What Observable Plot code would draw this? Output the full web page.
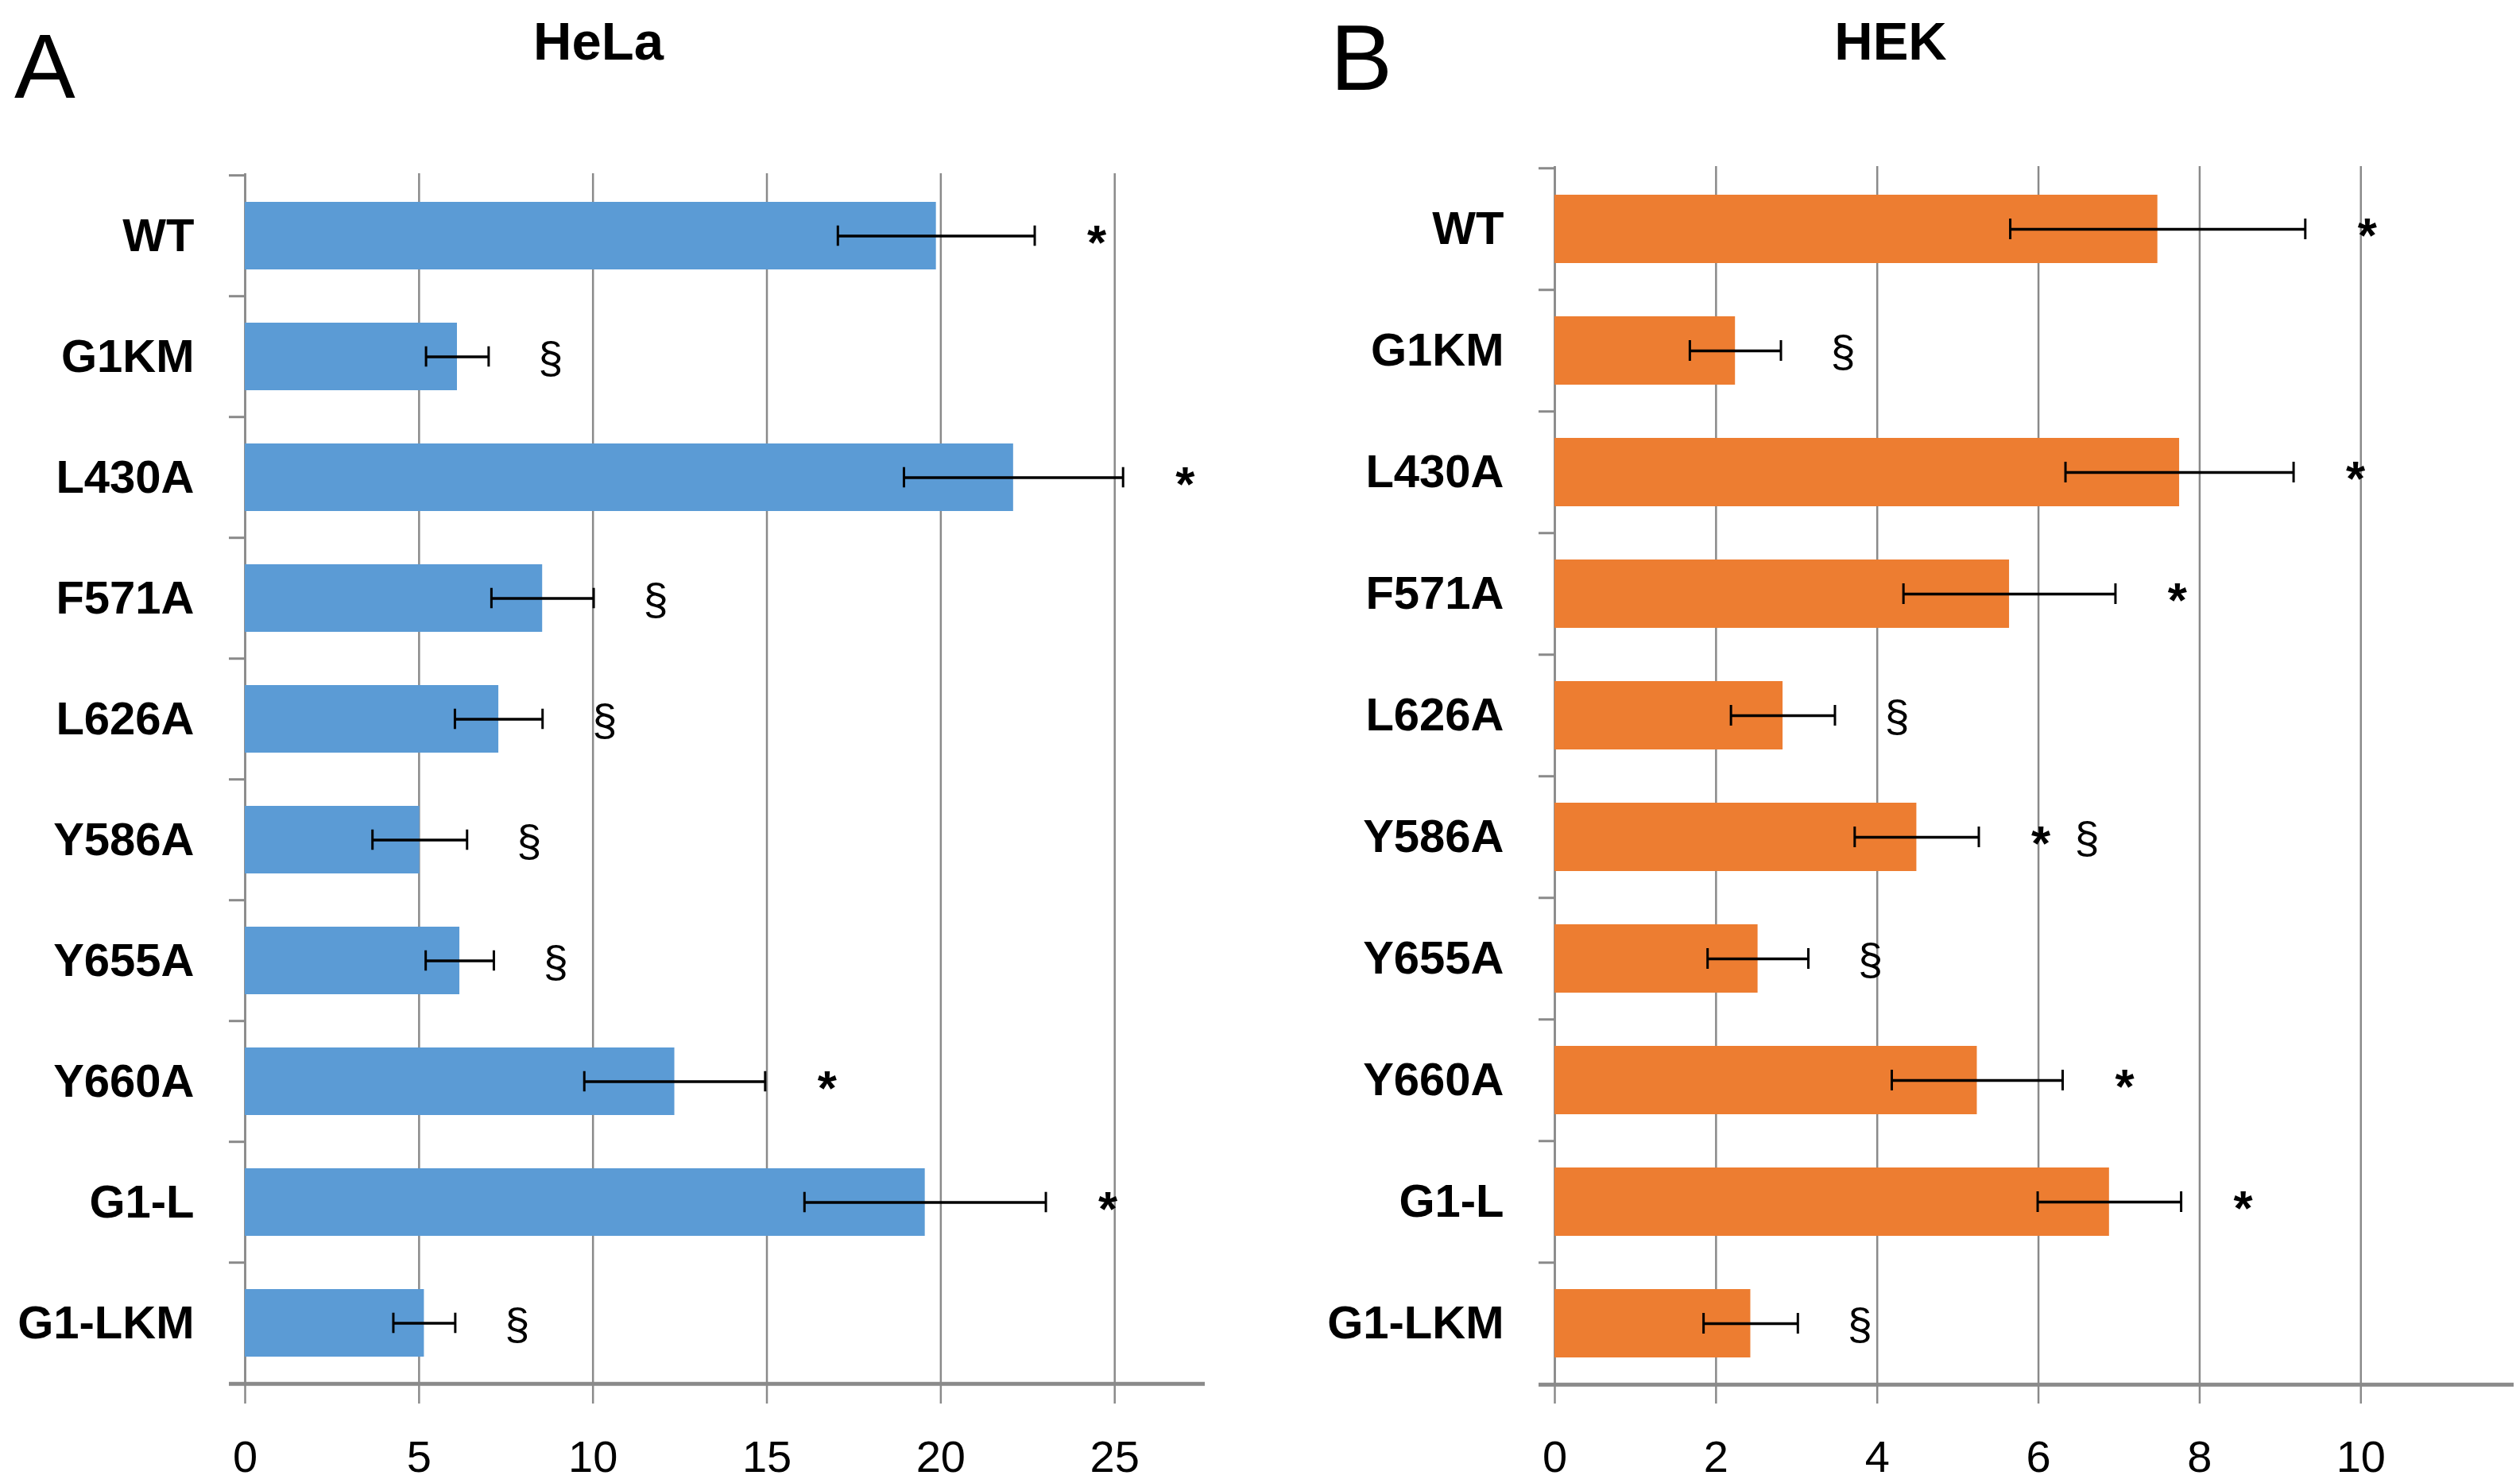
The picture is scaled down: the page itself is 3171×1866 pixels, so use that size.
<!DOCTYPE html>
<html><head><meta charset="utf-8">
<script src="https://cdn.jsdelivr.net/npm/d3@7"></script>
<script src="https://cdn.jsdelivr.net/npm/@observablehq/plot@0.6"></script>
<style>
body{margin:0;background:#fff;}
#wrap{position:relative;width:3171px;height:1866px;font-family:"Liberation Sans",Arial,sans-serif;color:#000;background:#fff;}
.lbl{position:absolute;line-height:1;white-space:nowrap;}
.panel{position:absolute;top:150px;}
</style></head><body><div id="wrap"></div>
<script>
const categories = ["WT","G1KM","L430A","F571A","L626A","Y586A","Y655A","Y660A","G1-L","G1-LKM"];

const helaMean = [19.87, 6.10, 22.09, 8.55, 7.29, 5.02, 6.17, 12.35, 19.55, 5.15];
const helaErr  = [2.83, 0.90, 3.15, 1.47, 1.26, 1.36, 0.98, 2.60, 3.47, 0.89];
const helaSig  = ["*","§","*","§","§","§","§","*","*","§"];
const helaTicks = [0, 5, 10, 15, 20, 25];

const hekMean = [7.48, 2.24, 7.75, 5.64, 2.83, 4.49, 2.52, 5.24, 6.88, 2.43];
const hekErr  = [1.83, 0.565, 1.415, 1.315, 0.645, 0.77, 0.625, 1.06, 0.89, 0.585];
const hekSig  = ["*","§","*","*","§","* §","§","*","*","§"];
const hekTicks = [0, 2, 4, 6, 8, 10];

const panelLetters = ["A", "B"];
const panelTitles = ["HeLa", "HEK"];

function panel({mean, err, sig, ticks, max, color, width, marginLeft, marginRight, marginTop}) {
  const height = 1716, marginBottom = 122;
  const rows = categories.map((c, i) => ({cat: c, mean: mean[i], lo: mean[i] - err[i], hi: mean[i] + err[i]}));
  const plotW = width - marginLeft - marginRight;
  const plotH = height - marginTop - marginBottom;
  const step = plotH / categories.length;
  const unitPx = plotW / max;
  const tickLenU = 20 / unitPx;
  const pad = 0.44;
  const bandwidth = step * (1 - pad);
  const capInset = (bandwidth - 26) / 2;
  const ann = [];
  sig.forEach((s, i) => s.split(" ").forEach((sym, j) => ann.push({cat: categories[i], x: rows[i].hi, sym, j})));
  const gray = "#8a8a8a";
  const symMarks = [];
  [0, 1].forEach(j => {
    symMarks.push(Plot.text(ann.filter(d => d.sym === "*" && d.j === j), {
      x: "x", y: "cat", text: "sym", dx: 78 + j * 58, dy: 9, fontSize: 62, fontWeight: "bold", textAnchor: "middle", fill: "#000"
    }));
    symMarks.push(Plot.text(ann.filter(d => d.sym === "§" && d.j === j), {
      x: "x", y: "cat", text: "sym", dx: 78 + j * 58, dy: 2, fontSize: 56, textAnchor: "middle", fill: "#000"
    }));
  });
  return Plot.plot({
    width, height, marginLeft, marginRight, marginTop, marginBottom,
    style: {fontFamily: "'Liberation Sans', Arial, sans-serif", color: "#000", background: "#fff"},
    x: {domain: [0, max]},
    y: {domain: categories, paddingInner: pad, paddingOuter: pad / 2},
    marks: [
      Plot.gridX(ticks, {stroke: gray, strokeOpacity: 1, strokeWidth: 2.5}),
      Plot.ruleX([0], {stroke: gray, strokeWidth: 2.5}),
      Plot.ruleY(categories, {y: d => d, x1: -tickLenU, x2: 0, dy: -step / 2, stroke: gray, strokeWidth: 3}),
      Plot.barX(rows, {y: "cat", x: "mean", fill: color}),
      Plot.ruleY(rows, {y: "cat", x1: "lo", x2: "hi", stroke: "#000", strokeWidth: 3.5}),
      Plot.tickX(rows, {y: "cat", x: "lo", insetTop: capInset, insetBottom: capInset, stroke: "#000", strokeWidth: 3}),
      Plot.tickX(rows, {y: "cat", x: "hi", insetTop: capInset, insetBottom: capInset, stroke: "#000", strokeWidth: 3}),
      Plot.ruleY([categories[categories.length - 1]], {y: d => d, x1: -tickLenU, x2: max, dy: step / 2, stroke: gray, strokeWidth: 5}),
      Plot.axisX({ticks, tickSize: 22, tickPadding: 46, fontSize: 56, stroke: gray, strokeWidth: 2.5, fill: "#000", label: null}),
      Plot.axisY({tickSize: 0, tickPadding: 64, fontSize: 58, fontWeight: "bold", fill: "#000", label: null}),
      ...symMarks
    ]
  });
}

const wrap = document.getElementById("wrap");

const pa = panel({mean: helaMean, err: helaErr, sig: helaSig, ticks: helaTicks, max: 27.6, color: "#5B9BD5",
  width: 1560, marginLeft: 308, marginRight: 44, marginTop: 68});
const da = document.createElement("div"); da.className = "panel"; da.style.left = "0px"; da.appendChild(pa); wrap.appendChild(da);

const pb = panel({mean: hekMean, err: hekErr, sig: hekSig, ticks: hekTicks, max: 11.9, color: "#ED7D31",
  width: 1611, marginLeft: 396, marginRight: 8, marginTop: 59});
const db = document.createElement("div"); db.className = "panel"; db.style.left = "1560px"; db.appendChild(pb); wrap.appendChild(db);

function addLabel(text, left, top, size, weight, width) {
  const d = document.createElement("div");
  d.className = "lbl";
  d.textContent = text;
  d.style.left = left + "px";
  d.style.top = top + "px";
  d.style.fontSize = size + "px";
  d.style.fontWeight = weight;
  if (width) { d.style.width = width + "px"; d.style.textAlign = "center"; }
  wrap.appendChild(d);
}
addLabel(panelLetters[0], 18, 26, 115, "normal");
addLabel(panelLetters[1], 1674, 14, 117, "normal");
addLabel(panelTitles[0], 753 - 150, 18, 67, "bold", 300);
addLabel(panelTitles[1], 2379 - 150, 18, 67, "bold", 300);
</script>
</body></html>
